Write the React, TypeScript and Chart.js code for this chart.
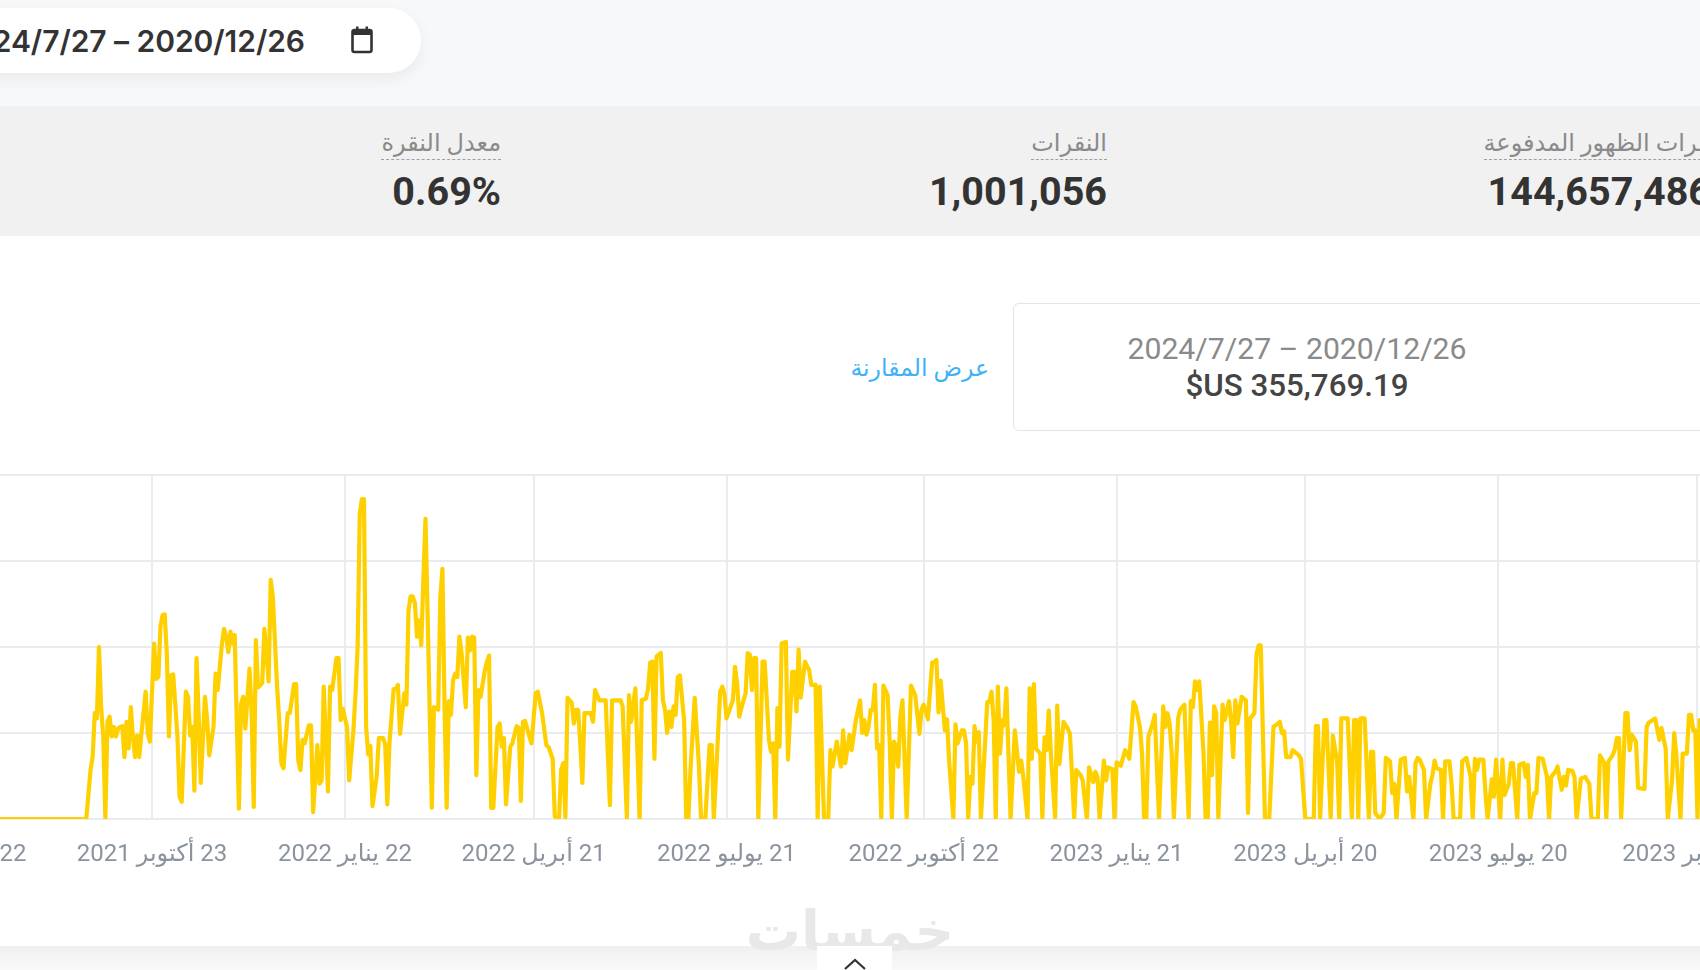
import React, { useEffect, useRef } from "react";
import { Chart, registerables } from "chart.js";

Chart.register(...registerables);

const tickDays = [-92, 0, 91, 180, 271, 364, 455, 544, 635, 729];
const tickLabels = [
  "22 يوليو 2021",
  "23 أكتوبر 2021",
  "22 يناير 2022",
  "21 أبريل 2022",
  "21 يوليو 2022",
  "22 أكتوبر 2022",
  "21 يناير 2023",
  "20 أبريل 2023",
  "20 يوليو 2023",
  "20 أكتوبر 2023",
];

const days2021 = [
  -119, -31, -29, -28, -27, -26, -25, -24, -23, -22, -21, -20, -19, -18, -17, -16, -15, -14, -13, -12,
  -11, -10, -9, -8, -7, -6, -5, -3, -2, -1, 1, 2, 3, 4, 5, 6, 7, 8, 9, 10,
  12, 13, 14, 16, 17, 18, 19, 20, 21, 22, 23, 25, 26, 27, 29, 30, 31, 33, 34, 35,
  36, 37, 38, 39, 41, 42, 43, 44, 46, 47, 48, 49, 50, 52, 53, 54, 55, 56, 57, 59,
  60, 61, 62, 64, 65, 67, 68, 69, 70, 71, 72, 74, 75, 76, 78, 79, 80, 81, 83, 84,
  85, 87, 88, 89, 90, 92, 93,
];
const values2021 = [
  0, 0, 57, 72, 123, 117, 200, 130, 96, 1, 113, 119, 96, 107, 96, 105, 107, 108, 72, 113,
  82, 130, 96, 72, 97, 72, 99, 148, 99, 90, 204, 163, 165, 224, 237, 238, 192, 96, 167, 168,
  96, 26, 20, 148, 142, 97, 107, 33, 187, 123, 42, 142, 115, 74, 107, 169, 150, 204, 221, 212,
  194, 218, 204, 214, 12, 134, 142, 105, 175, 123, 14, 208, 153, 158, 221, 192, 160, 278, 258, 154,
  115, 65, 59, 123, 123, 157, 157, 68, 57, 92, 88, 109, 109, 8, 86, 41, 45, 154, 32, 154,
  150, 187, 187, 115, 128, 107, 45,
];

const daysEarly2022 = [
  95, 96, 97, 98, 99, 100, 101, 102, 103, 104, 106, 107, 109, 110, 111, 112, 114, 115, 116, 117,
  119, 120, 121, 122, 123, 124, 125, 126, 127, 128, 129, 130, 131, 132, 133, 135, 136, 137, 138, 139,
  140, 141, 142, 143, 144, 145, 146, 148, 149, 150, 151, 152, 153, 154, 155, 157, 158, 159, 160, 161,
  163, 164, 165, 166, 167, 169, 170, 172, 173, 174, 175, 176, 178, 179, 181, 182, 184, 185, 186, 187,
  189, 190, 192, 193, 194, 195, 196, 198, 199, 200, 201, 202, 203, 204, 207, 208, 209, 211, 214,
];
const valuesEarly2022 = [
  103, 146, 200, 355, 372, 372, 107, 75, 85, 15, 50, 94, 94, 87, 17, 88, 151, 151, 156, 99,
  146, 133, 243, 259, 259, 251, 212, 231, 202, 278, 349, 239, 123, 13, 130, 127, 258, 291, 130, 13,
  137, 121, 161, 169, 165, 212, 194, 130, 211, 196, 212, 211, 51, 150, 142, 173, 183, 190, 13, 13,
  107, 111, 84, 94, 17, 84, 88, 108, 106, 21, 113, 114, 96, 88, 146, 148, 123, 105, 86, 84,
  70, 3, 0, 57, 65, 2, 141, 135, 111, 127, 127, 88, 42, 123, 123, 113, 150, 138, 138,
];

const daysMid2022 = [
  216, 217, 221, 222, 224, 225, 226, 228, 230, 231, 233, 234, 235, 236, 237, 238, 240, 241, 242, 243,
  244, 245, 246, 247, 248, 249, 251, 252, 253, 254, 256, 258, 259, 261, 263, 264, 265, 268, 269, 270,
  271, 274, 275, 276, 277, 278, 280, 281, 282, 283, 284, 285, 286, 288, 289, 291, 292, 293, 294, 295,
  296, 297, 299, 300, 302, 303, 304, 305, 306, 308, 310, 311, 313, 314, 315, 317, 319, 320, 321, 323,
  325, 326, 327, 329, 330, 332, 334,
];
const valuesMid2022 = [
  16, 138, 138, 131, 0, 144, 113, 152, 0, 138, 140, 152, 182, 183, 70, 189, 193, 138, 127, 100,
  125, 107, 131, 121, 165, 167, 115, 0, 0, 57, 141, 61, 0, 0, 86, 86, 0, 148, 154, 146,
  117, 138, 177, 158, 119, 129, 146, 193, 191, 150, 187, 187, 0, 183, 183, 92, 78, 88, 0, 129,
  84, 204, 206, 69, 171, 171, 125, 197, 141, 183, 173, 156, 156, 0, 154, 0, 0, 80, 61, 90,
  61, 103, 65, 98, 80, 115, 138,
];

const daysLate2022 = [
  335, 336, 337, 338, 339, 340, 341, 342, 343, 344, 345, 347, 348, 349, 350, 351, 352, 353, 354, 356,
  358, 360, 362, 363, 364, 366, 368, 369, 370, 371, 372, 374, 375, 376, 378, 379, 380, 382, 383, 384,
  385, 386, 387, 388, 389, 390, 391, 394, 395, 396, 397, 398, 399, 400, 401, 402, 403, 405, 407, 409,
  410, 411, 413, 414, 415, 416, 417, 419, 420, 421, 422, 423, 424, 426, 427, 428, 430, 432, 433, 435,
  436, 438, 439, 441, 442, 444, 445, 446, 447, 449, 450, 451, 453, 454, 455, 457, 459, 460, 461,
];
const valuesLate2022 = [
  100, 115, 98, 107, 127, 127, 156, 82, 86, 0, 155, 144, 88, 0, 90, 84, 61, 119, 138, 0,
  155, 144, 99, 127, 133, 116, 182, 182, 185, 124, 161, 103, 116, 68, 0, 110, 88, 103, 103, 88,
  0, 49, 41, 108, 90, 101, 0, 136, 136, 148, 115, 0, 154, 76, 115, 109, 152, 0, 103, 55,
  68, 49, 0, 152, 70, 157, 82, 76, 0, 95, 80, 126, 76, 2, 132, 64, 113, 105, 99, 0,
  57, 51, 45, 0, 60, 43, 55, 49, 0, 68, 45, 60, 58, 0, 66, 62, 80, 76, 70,
];

const daysEarly2023 = [
  463, 464, 466, 467, 468, 469, 470, 472, 473, 475, 477, 478, 479, 480, 481, 482, 484, 485, 487, 489,
  490, 491, 492, 493, 494, 496, 497, 498, 499, 500, 501, 502, 503, 505, 506, 508, 509, 510, 511, 512,
  514, 516, 517, 518, 520, 521, 522, 523, 525, 527, 529, 531, 532, 533, 534, 535, 537, 538, 541, 542,
  544, 548, 549, 550, 551, 553, 554, 556, 557, 559, 560, 561, 564, 566, 567, 568, 569, 570, 572, 574,
  575, 576, 577, 579, 581, 582, 584, 585, 586, 587, 589, 591, 592,
];
const valuesEarly2023 = [
  136, 131, 107, 76, 0, 0, 96, 111, 121, 0, 131, 107, 123, 111, 76, 0, 117, 127, 133, 0,
  137, 130, 160, 150, 160, 76, 0, 0, 112, 51, 131, 123, 0, 133, 115, 137, 115, 72, 138, 111,
  142, 138, 7, 117, 123, 191, 202, 202, 0, 0, 107, 111, 113, 100, 102, 72, 72, 80, 74, 70,
  0, 0, 108, 108, 0, 115, 115, 0, 97, 68, 0, 117, 117, 0, 115, 115, 0, 117, 117, 0,
  78, 78, 7, 0, 7, 71, 67, 30, 41, 0, 69, 71, 32,
];

const daysLate2023 = [
  593, 595, 596, 597, 598, 600, 601, 603, 604, 605, 606, 608, 609, 610, 612, 613, 614, 617, 618, 620,
  622, 623, 624, 625, 626, 628, 629, 630, 632, 633, 634, 636, 637, 638, 640, 641, 642, 644, 645, 647,
  648, 649, 650, 652, 653, 654, 656, 658, 659, 660, 662, 663, 665, 666, 667, 668, 670, 671, 672, 674,
  676, 678, 679, 682, 683, 685, 686, 687, 689, 690, 691, 692, 693, 695, 696, 697, 698, 700, 701, 704,
  705, 706, 709, 711, 712, 714, 715, 717, 718, 719, 721, 722, 724, 725, 726, 727, 728, 729, 730, 732,
];
const valuesLate2023 = [
  49, 0, 65, 71, 69, 57, 0, 41, 51, 68, 59, 57, 0, 67, 67, 41, 0, 0, 67, 71,
  49, 0, 70, 57, 69, 69, 30, 0, 46, 26, 69, 0, 69, 28, 41, 65, 65, 0, 63, 65,
  49, 63, 0, 30, 30, 71, 70, 49, 0, 49, 55, 61, 34, 49, 39, 57, 56, 49, 0, 47,
  49, 41, 0, 0, 74, 65, 0, 67, 74, 81, 94, 94, 0, 123, 123, 80, 98, 90, 36, 35,
  107, 112, 117, 92, 106, 82, 0, 45, 100, 76, 0, 76, 76, 121, 121, 103, 103, 0, 115, 110,
];

const days = [...days2021, ...daysEarly2022, ...daysMid2022, ...daysLate2022, ...daysEarly2023, ...daysLate2023];
const values = [...values2021, ...valuesEarly2022, ...valuesMid2022, ...valuesLate2022, ...valuesEarly2023, ...valuesLate2023];

const sans = "Roboto, 'Noto Sans', 'DejaVu Sans', sans-serif";

const abs = (s: React.CSSProperties): React.CSSProperties => ({ position: "absolute", ...s });

function Stat({ right, label, value }: { right: number; label: string; value: string }) {
  return (
    <>
      <div
        dir="rtl"
        style={abs({
          right: 1700 - right,
          top: 128,
          fontSize: 24,
          lineHeight: "31px",
          color: "#8a8a8a",
          borderBottom: "1.5px dashed #a0a0a0",
          whiteSpace: "nowrap",
          fontFamily: sans,
        })}
      >
        {label}
      </div>
      <div
        style={abs({
          right: 1700 - right,
          top: 168,
          fontSize: 39.5,
          lineHeight: "48px",
          fontWeight: 700,
          color: "#333",
          whiteSpace: "nowrap",
          fontFamily: sans,
        })}
      >
        {value}
      </div>
    </>
  );
}

export default function App() {
  const ref = useRef<HTMLCanvasElement | null>(null);
  useEffect(() => {
    if (!ref.current) return;
    const chart = new Chart(ref.current, {
      type: "line",
      data: {
        datasets: [
          {
            data: days.map((d, i) => ({ x: d, y: values[i] })),
            borderColor: "#ffd000",
            borderWidth: 4.2,
            borderJoinStyle: "round",
            pointRadius: 0,
            tension: 0,
            fill: false,
          },
        ],
      },
      options: {
        animation: false,
        responsive: false,
        layout: { padding: { left: 100, right: 100, top: 15, bottom: 0 } },
        plugins: { legend: { display: false }, tooltip: { enabled: false } },
        scales: {
          x: {
            type: "linear",
            min: -118.87,
            max: 777.36,
            grid: { color: "#e9ecef", lineWidth: 2, drawTicks: false },
            border: { display: false },
            afterBuildTicks: (scale: any) => {
              scale.ticks = tickDays.map((value) => ({ value }));
            },
            afterFit: (scale: any) => {
              scale.height = 70;
            },
            ticks: {
              autoSkip: false,
              maxRotation: 0,
              minRotation: 0,
              padding: 22,
              color: "#8a939e",
              font: { family: sans, size: 24 },
              callback: (v: any) => tickLabels[tickDays.indexOf(Number(v))] ?? "",
            },
          },
          y: {
            min: 0,
            max: 400,
            grid: { color: "#e9ecef", lineWidth: 2, drawTicks: false },
            border: { display: false },
            afterFit: (scale: any) => {
              scale.width = 0;
            },
            ticks: { display: false, stepSize: 100 },
          },
        },
      },
    } as any);
    return () => chart.destroy();
  }, []);

  return (
    <div
      style={{
        position: "fixed",
        left: 0,
        top: 0,
        width: 1700,
        height: 970,
        overflow: "hidden",
        background: "#fff",
        fontFamily: sans,
      }}
    >
      <div style={abs({ left: 0, top: 0, width: 1700, height: 106, background: "#f7f8fa" })} />
      <div
        style={abs({
          left: -200,
          top: 8,
          width: 621,
          height: 65,
          background: "#fff",
          borderRadius: 33,
          boxShadow: "0 6px 16px rgba(0,0,0,0.06)",
        })}
      />
      <div
        style={abs({
          right: 1700 - 305,
          top: 20,
          fontSize: 30,
          lineHeight: "42px",
          fontWeight: 600,
          color: "#333",
          whiteSpace: "nowrap",
          fontFamily: "Inter, Roboto, sans-serif",
          letterSpacing: -0.05,
        })}
      >
        2024/7/27 – 2020/12/26
      </div>
      <svg style={abs({ left: 350, top: 25, width: 24, height: 30 })} viewBox="0 0 24 30">
        <rect x="2.5" y="5" width="19" height="22" rx="2" fill="none" stroke="#333" strokeWidth="2.6" />
        <rect x="2.5" y="5" width="19" height="5" fill="#333" />
        <rect x="6" y="1.5" width="2.5" height="5" fill="#333" />
        <rect x="15.5" y="1.5" width="2.5" height="5" fill="#333" />
      </svg>

      <div style={abs({ left: 0, top: 106, width: 1700, height: 130, background: "#f1f1f1" })} />
      <Stat right={501} label="معدل النقرة" value="0.69%" />
      <Stat right={1107} label="النقرات" value="1,001,056" />
      <Stat right={1711} label="مرات الظهور المدفوعة" value="144,657,486" />

      <div
        dir="rtl"
        style={abs({
          right: 1700 - 989,
          top: 350,
          fontSize: 23.6,
          lineHeight: "36px",
          color: "#3fb2f5",
          whiteSpace: "nowrap",
          fontFamily: sans,
        })}
      >
        عرض المقارنة
      </div>
      <div
        style={abs({
          left: 1013,
          top: 303,
          width: 800,
          height: 126,
          border: "1.5px solid #e4e4e4",
          borderRadius: 6,
          background: "#fff",
        })}
      />
      <div
        style={abs({
          left: 1097,
          top: 330,
          width: 400,
          textAlign: "center",
          fontSize: 30.2,
          lineHeight: "38px",
          color: "#8a8a8a",
          whiteSpace: "nowrap",
          fontFamily: sans,
        })}
      >
        2024/7/27 – 2020/12/26
      </div>
      <div
        style={abs({
          left: 1097,
          top: 367,
          width: 400,
          textAlign: "center",
          fontSize: 31.3,
          lineHeight: "38px",
          fontWeight: 500,
          color: "#444",
          whiteSpace: "nowrap",
          fontFamily: sans,
        })}
      >
        $US 355,769.19
      </div>

      <canvas
        ref={ref}
        dir="rtl"
        width={2100}
        height={429}
        style={abs({ left: -200, top: 460, width: 2100, height: 429, direction: "rtl" })}
      />

      <div
        style={abs({
          left: 0,
          top: 946,
          width: 1700,
          height: 24,
          background: "linear-gradient(#f0f0f0, #f9f9f9)",
        })}
      />
      <div
        dir="rtl"
        style={abs({
          left: 700,
          width: 300,
          top: 896,
          textAlign: "center",
          fontSize: 55,
          lineHeight: "70px",
          fontWeight: 700,
          color: "#e8e8e8",
          fontFamily: "'DejaVu Sans', sans-serif",
        })}
      >
        خمسات
      </div>
      <div style={abs({ left: 817, top: 946, width: 75, height: 24, background: "#fff" })} />
      <svg style={abs({ left: 843, top: 957, width: 24, height: 13 })} viewBox="0 0 24 13">
        <polyline points="2,12 12,3 22,12" fill="none" stroke="#333" strokeWidth="2.2" />
      </svg>
    </div>
  );
}
